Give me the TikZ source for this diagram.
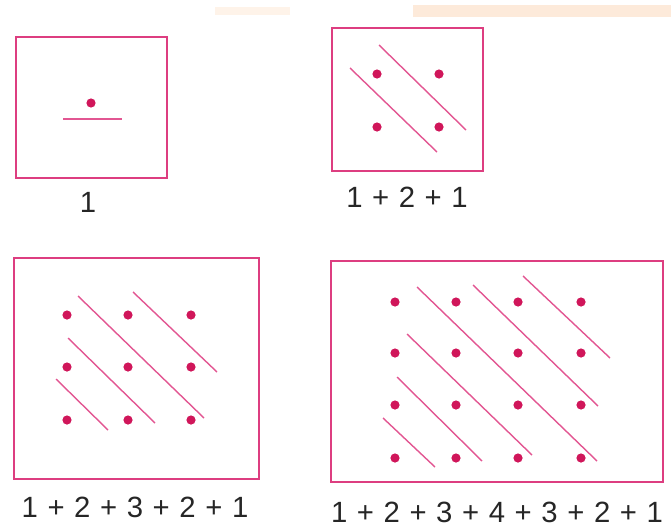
\documentclass[tikz,border=0pt]{standalone}
\usepackage{fontspec}
\setmainfont{Liberation Sans}[WordSpace=1.18]
\usepackage{tikz}
\usetikzlibrary{positioning}
\definecolor{frame}{RGB}{221, 62, 128}
\definecolor{stroke}{RGB}{226, 86, 146}
\definecolor{dotc}{RGB}{208, 22, 90}
\definecolor{band}{RGB}{253, 234, 218}

\begin{document}
\begin{tikzpicture}[x=0.03cm, y=-0.03cm,
        box/.style={draw=frame, line width=1.7pt},
        diag/.style={draw=stroke, line width=1.2pt},
        pt/.style={fill=dotc},
        sum/.style={font=\fontsize{25}{28}\selectfont, text=black!85, inner sep=0pt}]
        \useasboundingbox (0,0) rectangle (671,530);
        % faint band along the top
        \fill[band] (413,5) rectangle (671,17);
        \fill[band!60] (215,7) rectangle (290,15);
        % one dot
        \draw[box] (16,37) rectangle (167,178);
        \fill[pt] (91,103) circle (4.6);
        \draw[diag] (63,119) -- (122,119);
        \node[sum] (s1) at (88,202) {1};
        % four dots
        \draw[box] (332,28) rectangle (483,171);
        \foreach \x in {377,439} \foreach \y in {74,127} \fill[pt] (\x,\y) circle (4.6);
        \draw[diag] (350,68) -- (437,152);
        \draw[diag] (379,45) -- (466,130);
        \node[sum] (s2) at (407,197) {1 + 2 + 1};
        % nine dots
        \draw[box] (14,258) rectangle (259,479);
        \foreach \x in {67,128,191} \foreach \y in {315,367,420} \fill[pt] (\x,\y) circle (4.6);
        \draw[diag] (56,379) -- (108,430);
        \draw[diag] (68,338) -- (155,423);
        \draw[diag] (78,296) -- (204,418);
        \draw[diag] (133,292) -- (217,372);
        \node[sum] (s3) at (135,507) {1 + 2 + 3 + 2 + 1};
        % sixteen dots
        \draw[box] (331,261) rectangle (663,482);
        \foreach \x in {395,456,518,581} \foreach \y in {302,353,405,458} \fill[pt] (\x,\y) circle (4.6);
        \draw[diag] (383,418) -- (435,467);
        \draw[diag] (397,377) -- (482,461);
        \draw[diag] (407,334) -- (532,455);
        \draw[diag] (417,287) -- (597,461);
        \draw[diag] (473,285) -- (598,406);
        \draw[diag] (523,276) -- (610,358);
        \node[sum] (s4) at (497,512) {1 + 2 + 3 + 4 + 3 + 2 + 1};
    \end{tikzpicture}
\end{document}
